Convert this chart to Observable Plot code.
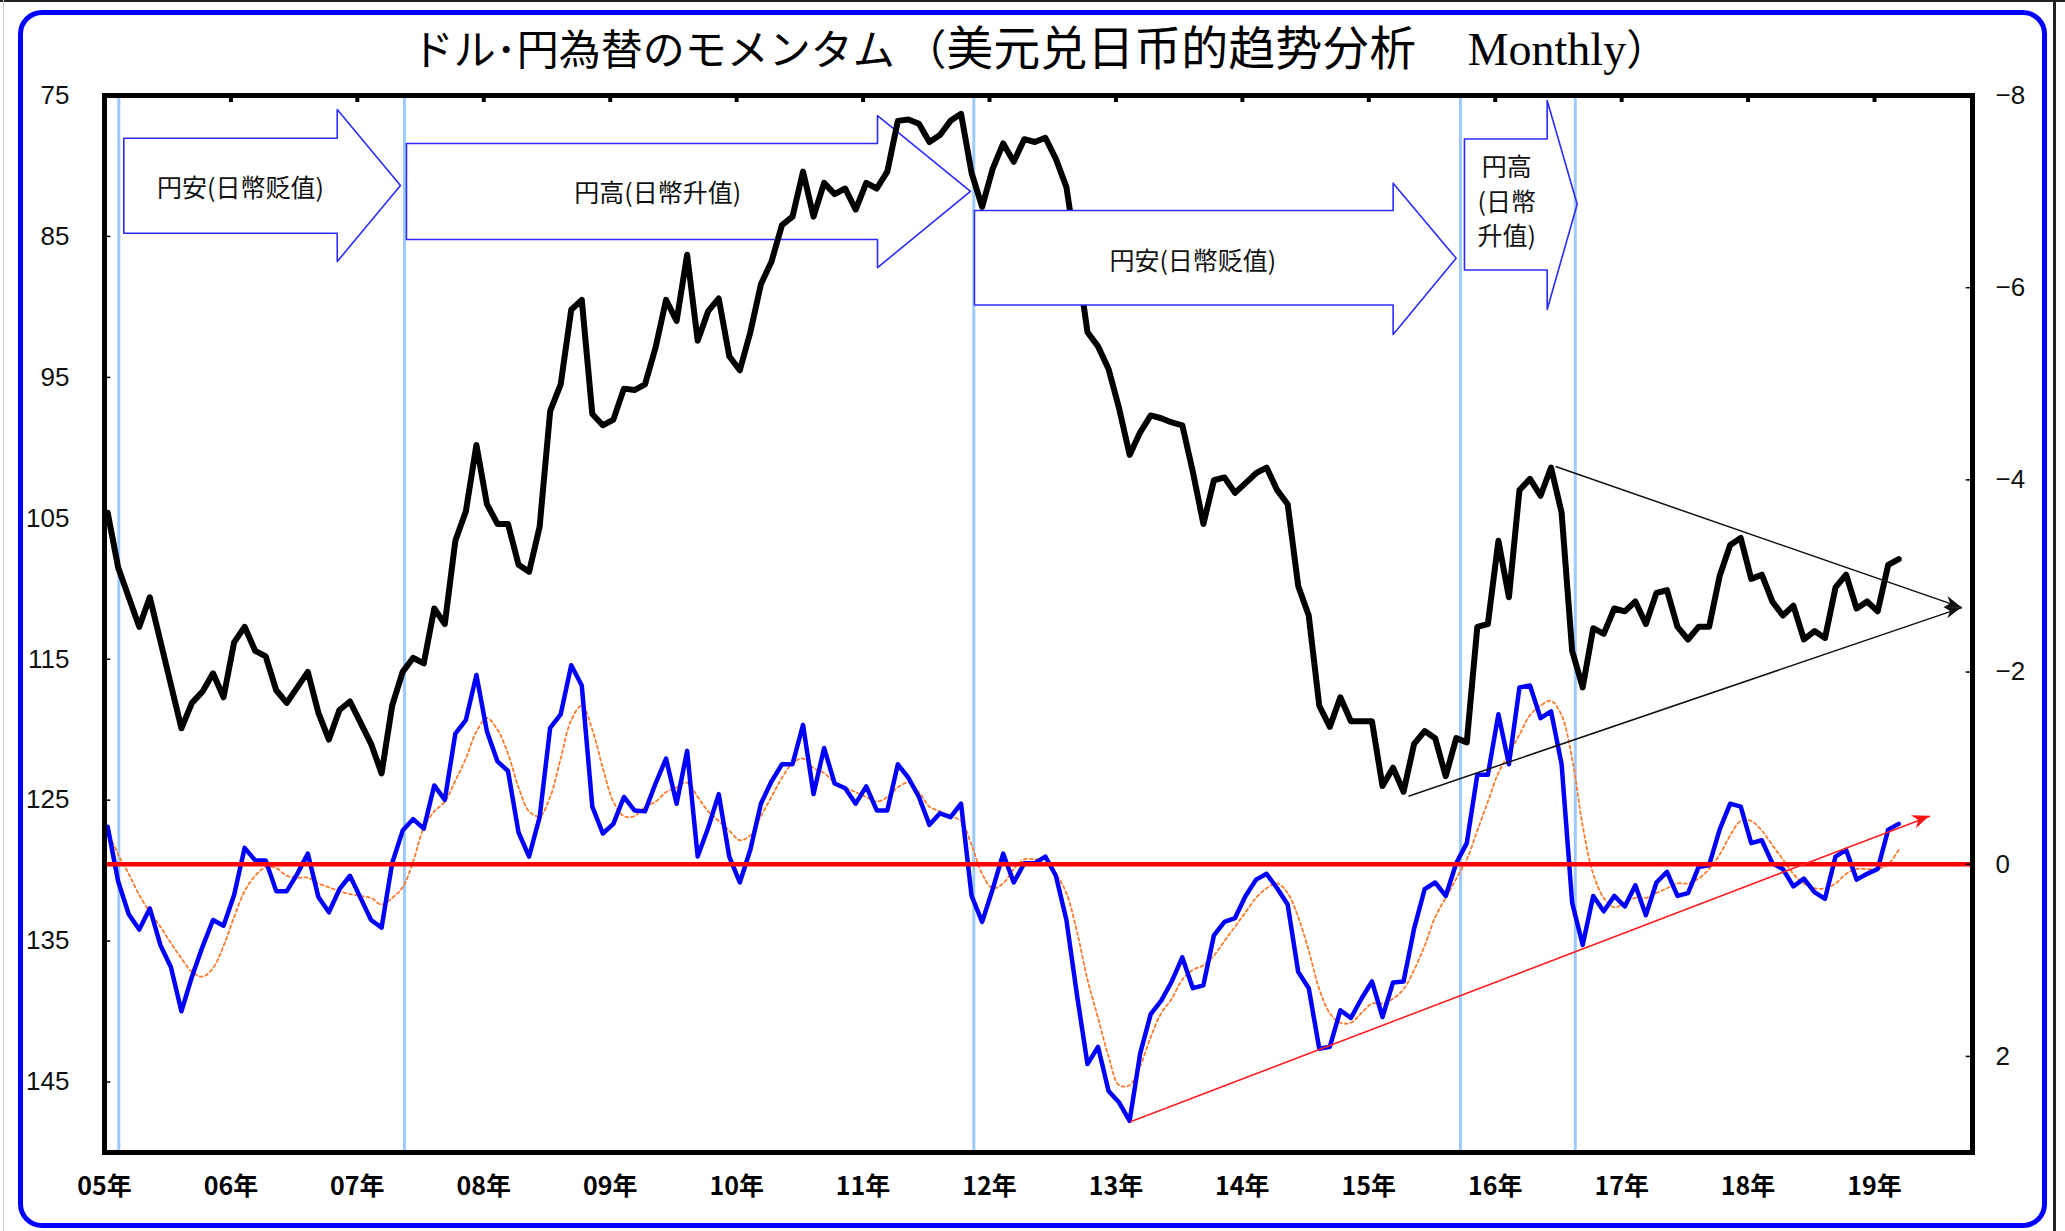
<!DOCTYPE html>
<html><head><meta charset="utf-8">
<script src="https://cdn.jsdelivr.net/npm/d3@7"></script>
<script src="https://cdn.jsdelivr.net/npm/@observablehq/plot@0.6"></script>
<style>
html,body{margin:0;padding:0;background:#fff;}
#wrap{position:relative;width:2065px;height:1231px;overflow:hidden;background:#fff;}
#frame{position:absolute;left:18px;top:10px;width:2019px;height:1208px;border:5px solid #0000ff;border-radius:24px;pointer-events:none;}
#title{position:absolute;left:0;width:2080px;top:16px;text-align:center;font-family:"Noto Sans CJK JP";font-size:42px;line-height:58px;color:#000;white-space:pre;}
#title .zh{font-family:"Noto Sans CJK SC";font-size:47px;}
#title .en{font-family:"Liberation Serif";font-size:46px;}
#chart{position:absolute;left:0;top:0;}
#edgeTop{position:absolute;left:0;top:0;width:2065px;height:2px;background:#222;}
#edgeRight{position:absolute;left:2053px;top:0;width:3px;height:1231px;background:#222;}
#edgeLeft{position:absolute;left:3px;top:0;width:1px;height:1231px;background:#ccc;}
</style></head>
<body>
<div id="wrap">
  <div id="chart"></div>
  <div id="title">ドル･円為替のモメンタム （<span class="zh">美元兑日币的趋势分析</span>　 <span class="en">Monthly</span>）</div>
  <div id="frame"></div>
  <div id="edgeTop"></div><div id="edgeRight"></div><div id="edgeLeft"></div>
</div>
<script>
// ---- data (monthly, first point = 05年) ----
const yen = [
104.6,108.5,110.6,112.7,110.6,113.7,116.8,119.9,118.1,117.3,
116.0,117.7,113.8,112.7,114.4,114.8,117.2,118.1,117.0,115.9,
118.8,120.7,118.6,118.0,119.5,121.0,123.1,118.3,115.9,114.9,
115.3,111.4,112.5,106.6,104.5,99.8,104.0,105.4,105.4,108.3,
108.8,105.6,97.4,95.5,90.2,89.5,97.6,98.4,98.0,95.8,
95.9,95.5,92.9,89.5,91.0,86.3,92.4,90.3,89.4,93.5,
94.5,91.8,88.4,86.8,84.2,83.6,80.4,83.6,81.2,82.0,
81.6,83.1,81.2,81.6,80.4,76.8,76.7,77.0,78.3,77.8,
76.8,76.3,80.5,82.9,80.2,78.4,79.7,78.1,78.3,78.0,
79.5,81.5,86.5,91.8,92.8,94.4,97.2,100.5,98.9,97.7,
97.9,98.2,98.4,101.7,105.4,102.3,102.1,103.2,102.5,101.8,
101.4,103.0,104.0,109.8,111.9,118.3,119.8,117.7,119.4,119.4,
119.4,124.0,122.7,124.4,121.0,120.1,120.6,123.3,120.6,120.9,
112.7,112.5,106.6,110.6,103.0,102.2,103.4,101.4,104.6,114.4,
117.0,112.8,113.2,111.4,111.6,110.9,112.5,110.3,110.1,112.7,
113.6,112.7,112.7,109.1,106.9,106.4,109.3,109.0,110.9,111.9,
111.2,113.6,113.0,113.5,109.9,109.0,111.4,110.9,111.6,108.3,
107.9
];
const momentum = [
-0.39,0.18,0.52,0.68,0.46,0.84,1.07,1.53,1.17,0.86,
0.58,0.64,0.32,-0.17,-0.04,-0.04,0.28,0.28,0.1,-0.11,
0.34,0.5,0.26,0.12,0.35,0.58,0.66,-0.01,-0.35,-0.47,
-0.37,-0.82,-0.67,-1.36,-1.5,-1.97,-1.38,-1.07,-0.97,-0.33,
-0.08,-0.49,-1.42,-1.56,-2.07,-1.86,-0.6,-0.32,-0.42,-0.7,
-0.56,-0.55,-0.84,-1.1,-0.63,-1.18,-0.08,-0.38,-0.73,-0.08,
0.19,-0.15,-0.63,-0.86,-1.04,-1.04,-1.45,-0.73,-1.21,-0.84,
-0.79,-0.63,-0.81,-0.56,-0.56,-1.04,-0.9,-0.7,-0.41,-0.53,
-0.49,-0.63,0.33,0.6,0.26,-0.11,0.19,-0.01,-0.01,-0.08,
0.12,0.58,1.36,2.08,1.9,2.36,2.48,2.67,1.97,1.56,
1.42,1.22,0.97,1.29,1.26,0.74,0.6,0.56,0.33,0.16,
0.1,0.25,0.42,1.12,1.29,1.92,1.9,1.52,1.6,1.4,
1.22,1.59,1.23,1.22,0.67,0.26,0.19,0.33,-0.01,-0.22,
-0.93,-0.93,-1.56,-1.04,-1.84,-1.86,-1.52,-1.59,-1.04,0.4,
0.84,0.33,0.49,0.33,0.44,0.22,0.53,0.19,0.08,0.33,
0.3,0.03,0.01,-0.36,-0.63,-0.6,-0.22,-0.25,-0.01,0.05,
0.23,0.15,0.29,0.36,-0.08,-0.15,0.16,0.1,0.05,-0.36,
-0.42
];
const momentumMA = [
-0.35,-0.1,0.1,0.32,0.5,0.65,0.82,0.98,1.12,1.17,
1.08,0.85,0.55,0.28,0.12,0.03,0.04,0.12,0.14,0.14,
0.2,0.24,0.28,0.31,0.33,0.35,0.42,0.35,0.24,-0.03,
-0.38,-0.55,-0.65,-0.87,-1.1,-1.38,-1.52,-1.4,-1.15,-0.8,
-0.55,-0.5,-0.7,-1.1,-1.5,-1.65,-1.4,-1.0,-0.65,-0.5,
-0.5,-0.6,-0.65,-0.75,-0.8,-0.85,-0.7,-0.55,-0.45,-0.35,
-0.25,-0.3,-0.5,-0.7,-0.9,-1.05,-1.1,-1.0,-0.95,-0.85,
-0.8,-0.75,-0.7,-0.65,-0.7,-0.8,-0.85,-0.75,-0.6,-0.55,
-0.5,-0.45,-0.2,0.1,0.25,0.2,0.05,-0.05,-0.05,-0.05,
0.1,0.3,0.7,1.2,1.6,2.0,2.3,2.3,2.1,1.8,
1.55,1.4,1.2,1.1,1.05,0.95,0.8,0.65,0.5,0.35,
0.25,0.2,0.3,0.55,0.9,1.3,1.55,1.65,1.65,1.55,
1.45,1.45,1.4,1.3,1.1,0.85,0.55,0.35,0.15,-0.05,
-0.35,-0.65,-0.95,-1.15,-1.35,-1.55,-1.65,-1.7,-1.55,-1.1,
-0.4,0.1,0.35,0.45,0.4,0.35,0.35,0.3,0.25,0.2,
0.2,0.15,0.05,-0.1,-0.3,-0.45,-0.45,-0.35,-0.2,-0.05,
0.1,0.2,0.25,0.25,0.2,0.1,0.05,0.05,0.05,0.0,
-0.15
];
const yearLabels = ["05年","06年","07年","08年","09年","10年","11年","12年","13年","14年","15年","16年","17年","18年","19年"];
const leftTicks = [75,85,95,105,115,125,135,145];
const rightTicks = [-8,-6,-4,-2,0,2];
// months (from 05年) where the regime lines are drawn
const regimeBreaks = [1.36, 28.47, 82.51, 128.7, 139.6];
// block arrows: [bodyLeft, headBase, tip] in months, [bodyTop, bodyBottom, headTop, headBottom, tipLevel] in yen
const blockArrows = [
  {id:"a1", layer:"back",  xs:[1.83,22.09,28.09],   ys:[78.03,84.77,75.99,86.78,81.39]},
  {id:"a2", layer:"back",  xs:[28.66,73.37,82.19],  ys:[78.41,85.22,76.42,87.21,81.81]},
  {id:"a3", layer:"front", xs:[82.57,122.31,128.29],ys:[83.16,89.87,81.22,91.96,86.55]},
  {id:"a4", layer:"back",  xs:[129.08,136.93,139.78],ys:[78.09,87.38,75.35,90.19,82.71]}
];
const arrowTexts = [
  {id:"a1", text:"円安(日幣贬值)", m:12.9, v:81.4},
  {id:"a2", text:"円高(日幣升值)", m:52.5, v:81.8},
  {id:"a3", text:"円安(日幣贬值)", m:103.3, v:86.6},
  {id:"a4", text:"円高\n(日幣\n升值)", m:133.1, v:82.4}
];
// trend lines: red on momentum (right axis), black on yen (left axis)
const momTrend = {m1:97.38, r1:2.68, m2:173.25, r2:-0.50};
const yenTrends = [
  {m1:123.77, v1:124.72, m2:176.3, v2:111.34},
  {m1:137.73, v1:101.33, m2:176.3, v2:111.34}
];

const XMAX = 177.3, OFF = 0.3;
const toLeft = r => 75 + (r + 8) * 75 / 11;

const polys = [];
for (const a of blockArrows) {
  const [x0, xh, xt] = a.xs, [t, b, ht, hb, tv] = a.ys;
  [[x0,t],[xh,t],[xh,ht],[xt,tv],[xh,hb],[xh,b],[x0,b],[x0,t]].forEach(([u,v]) => polys.push({id:a.id, layer:a.layer, u, v}));
}
const cjk = "Noto Sans CJK JP";
const arrowStyle = {x:"u", y:"v", z:"id", stroke:"#2b2bff", strokeWidth:1.6, curve:"linear"};
const txtStyle = {x:"m", y:"v", text:"text", fontSize:25, fontFamily:cjk, fill:"#111", lineHeight:1.38};

const chart = Plot.plot({
  width: 2065, height: 1231,
  marginLeft: 104, marginRight: 93, marginTop: 95, marginBottom: 79,
  x: {domain: [0, XMAX], axis: null},
  y: {domain: [75, 150], reverse: true, axis: null},
  style: {background: "transparent", fontFamily: "Liberation Sans", overflow: "visible"},
  marks: [
    Plot.ruleX(regimeBreaks, {stroke: "#9ccaff", strokeWidth: 3}),
    Plot.line(polys.filter(d => d.layer === "back"), {...arrowStyle, fill: "none"}),
    Plot.text(arrowTexts.filter(d => d.id !== "a3"), txtStyle),
    Plot.line(momentumMA, {x: (d,i) => i + OFF, y: d => toLeft(d), stroke: "#ff7a2a", strokeWidth: 1.8, strokeDasharray: "3,3", curve: "catmull-rom"}),
    Plot.line(momentum, {x: (d,i) => i + OFF, y: d => toLeft(d), stroke: "#0000ff", strokeWidth: 4.5, strokeLinejoin: "round"}),
    Plot.ruleY([0], {y: d => toLeft(d), stroke: "#ff0000", strokeWidth: 4.5}),
    Plot.line(yen, {x: (d,i) => i + OFF, y: d => d, stroke: "#000", strokeWidth: 6, strokeLinejoin: "round"}),
    Plot.line(polys.filter(d => d.layer === "front"), {...arrowStyle, fill: "#fff"}),
    Plot.text(arrowTexts.filter(d => d.id === "a3"), txtStyle),
    Plot.link([momTrend], {x1:"m1", y1: d => toLeft(d.r1), x2:"m2", y2: d => toLeft(d.r2), stroke:"#ff2020", strokeWidth:1.6}),
    Plot.link(yenTrends, {x1:"m1", y1:"v1", x2:"m2", y2:"v2", stroke:"#111", strokeWidth:1.5}),
    // inner tick marks
    Plot.ruleY(leftTicks.slice(1), {y: d => d, x1: 0, x2: 0.6, stroke: "#000", strokeWidth: 1.5}),
    Plot.ruleY(rightTicks.slice(1), {y: d => toLeft(d), x1: XMAX - 0.6, x2: XMAX, stroke: "#000", strokeWidth: 1.5}),
    Plot.ruleX(yearLabels.slice(1), {x: (d,i) => (i + 1) * 12, y1: 75, y2: 75.5, stroke: "#000", strokeWidth: 4}),
    Plot.frame({stroke: "#000", strokeWidth: 5}),
    // tick labels
    Plot.text(leftTicks, {x: 0, y: d => d, text: d => String(d), dx: -35, textAnchor: "end", fontSize: 26, fill: "#111"}),
    Plot.text(rightTicks, {x: XMAX, y: d => toLeft(d), text: d => d < 0 ? "\u2212" + Math.abs(d) : String(d), dx: 23, textAnchor: "start", fontSize: 26, fill: "#111"}),
    Plot.text(yearLabels, {x: (d,i) => i * 12, y: 150, dy: 34, text: d => d, fontSize: 25, fontWeight: "bold", fontFamily: cjk, fill: "#000"})
  ]
});
document.getElementById("chart").appendChild(chart);

// arrowheads on the trend lines, placed through the plot's scales
const sx = chart.scale("x"), sy = chart.scale("y");
function head(x1, y1, x2, y2, color, len, wid) {
  const dx = x2 - x1, dy = y2 - y1, L = Math.hypot(dx, dy), ux = dx / L, uy = dy / L;
  const bx = x2 - ux * len, by = y2 - uy * len;
  const pts = [[x2, y2], [bx - uy * wid, by + ux * wid], [x2 - ux * len * 0.7, y2 - uy * len * 0.7], [bx + uy * wid, by - ux * wid]];
  d3.select(chart).append("polygon").attr("points", pts.map(p => p.join(",")).join(" ")).attr("fill", color);
}
head(sx.apply(momTrend.m1), sy.apply(toLeft(momTrend.r1)), sx.apply(momTrend.m2), sy.apply(toLeft(momTrend.r2)), "#ff1010", 17, 7);
for (const t of yenTrends) head(sx.apply(t.m1), sy.apply(t.v1), sx.apply(t.m2), sy.apply(t.v2), "#111", 17, 6);
</script>
</body></html>
